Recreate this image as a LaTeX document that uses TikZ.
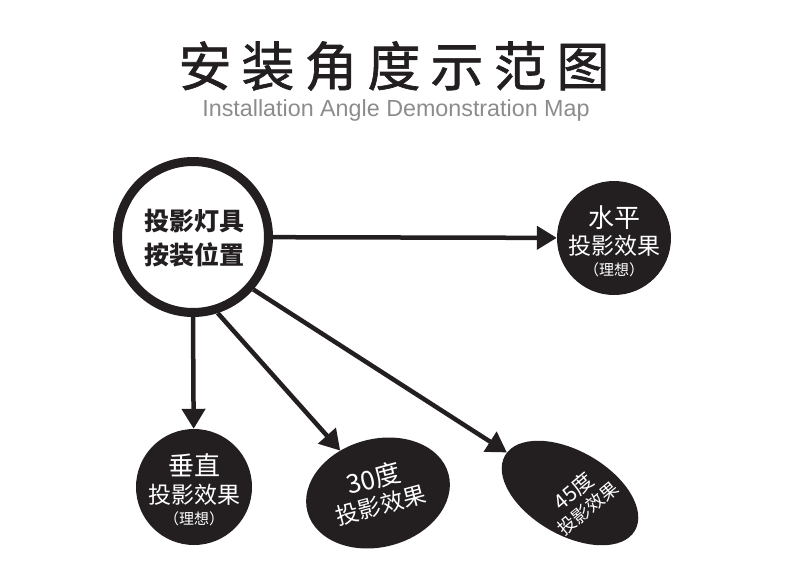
\documentclass[tikz,border=0pt]{standalone}
\usepackage{fontspec}
\setmainfont{Noto Sans CJK SC}
\newfontfamily\titlefont[FakeBold=1.2]{Noto Sans CJK SC}
\newfontfamily\latinfont{Liberation Sans}
\usetikzlibrary{arrows.meta,shapes.geometric}
\definecolor{ink}{RGB}{35,31,32}
\definecolor{subgray}{RGB}{140,140,140}
\begin{document}
\begin{tikzpicture}[x=1pt,y=-1pt,
  arr/.style={draw=ink,line width=4.5pt,-{Triangle[length=20pt,width=23pt]}},
  blob/.style={fill=ink,inner sep=0pt},
  wtext/.style={text=white,inner sep=0pt,align=center},
]
\useasboundingbox (0,0) rectangle (790,574);
\node[font=\titlefont\fontsize{53}{53}\selectfont, text=ink, inner sep=0pt] (title) at (394,66)
  {安\hspace{10pt}装\hspace{10pt}角\hspace{10pt}度\hspace{10pt}示\hspace{10pt}范\hspace{10pt}图};
\node[font=\latinfont\fontsize{23.3}{23.3}\selectfont, text=subgray, inner sep=0pt] (subtitle) at (396,110)
  {Installation Angle Demonstration Map};

% main circle
\node[circle, draw=ink, line width=9pt, minimum size=151pt, inner sep=0pt] (main) at (193,237) {};
\node[font=\bfseries\fontsize{25}{34}\selectfont, align=center, text=ink, inner sep=0pt] (maintext) at (194,238)
  {投影灯具\\按装位置};

% horizontal
\node[blob, circle, minimum size=114pt] (hcirc) at (614,238) {};
\node[wtext, font=\fontsize{23}{27}\selectfont] (htext) at (614,241)
  {{\fontsize{26}{26}\selectfont 水平}\\投影效果\\[-6pt]{\fontsize{15}{15}\selectfont （理想）}};

% vertical
\node[blob, circle, minimum size=116pt] (vcirc) at (194,487) {};
\node[wtext, font=\fontsize{23}{28}\selectfont] (vtext) at (194,490)
  {{\fontsize{26}{26}\selectfont 垂直}\\投影效果\\[-7pt]{\fontsize{15}{15}\selectfont （理想）}};

% 30 degrees
\node[blob, ellipse, minimum width=146pt, minimum height=108pt, rotate=15] (e30) at (378,493) {};
\node[wtext, font=\fontsize{23}{27}\selectfont, rotate=15] (t30) at (377,491)
  {{\fontsize{26}{26}\selectfont 30度}\\投影效果};

% 45 degrees
\node[blob, ellipse, minimum width=150pt, minimum height=84pt, rotate=-30] (e45) at (570,493) {};
\node[wtext, font=\fontsize{18}{22}\selectfont, rotate=40] (t45) at (580,499)
  {{\fontsize{21}{21}\selectfont 45度}\\投影效果};

% arrows
\draw[arr] (main) -- (hcirc);
\draw[arr] (main.south) -- (vcirc);
\draw[arr] (main.-72) -- (e30);
\draw[arr] (main.-41) -- (e45);
\end{tikzpicture}
\end{document}
